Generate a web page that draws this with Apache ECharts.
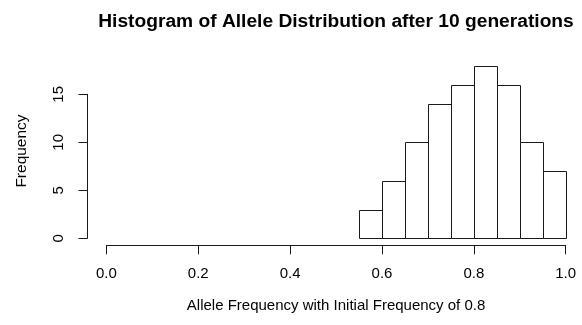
<!DOCTYPE html>
<html>
<head>
<meta charset="utf-8">
<script src="https://cdn.jsdelivr.net/npm/echarts@6/dist/echarts.min.js"></script>
<style>
  html, body { margin: 0; padding: 0; background: #fff; }
  #chart { width: 582px; height: 325px; }
</style>
</head>
<body>
<div id="chart"></div>
<script>
// Histogram bins: left edge of each bin and the number of populations in it
const binStarts = [0.55, 0.60, 0.65, 0.70, 0.75, 0.80, 0.85, 0.90, 0.95];
const binWidth = 0.05;
const counts = [3, 6, 10, 14, 16, 18, 16, 10, 7];
const xTicks = [0.0, 0.2, 0.4, 0.6, 0.8, 1.0];
const yTicks = [0, 5, 10, 15];

const FONT = 'Liberation Sans, Arial, sans-serif';
const INK = '#1a1a1a';

const chart = echarts.init(document.getElementById('chart'), null, { renderer: 'canvas' });

const barData = binStarts.map((s, i) => [s, s + binWidth, counts[i]]);

chart.setOption({
  animation: false,
  backgroundColor: '#ffffff',
  title: {
    text: 'Histogram of Allele Distribution after 10 generations',
    left: 331,
    top: 7,
    textAlign: 'center',
    textStyle: { fontFamily: FONT, fontWeight: 'bold', fontSize: 19.2, color: '#000' }
  },
  graphic: [{
    type: 'text',
    x: 22,
    y: 151,
    rotation: Math.PI / 2,
    style: {
      text: 'Frequency',
      font: '15.5px ' + FONT,
      fill: '#000',
      align: 'center',
      verticalAlign: 'middle'
    }
  }],
  grid: { left: 106.4, right: 16.3, top: 94.3, bottom: 86.7, containLabel: false },
  xAxis: {
    type: 'value',
    min: 0, max: 1, interval: 0.2,
    offset: 7,
    name: 'Allele Frequency with Initial Frequency of 0.8',
    nameLocation: 'middle',
    nameGap: 53,
    nameTextStyle: { fontFamily: FONT, fontSize: 15, color: '#000' },
    axisLine: { show: true, onZero: false, lineStyle: { color: INK, width: 1 } },
    axisTick: { show: true, length: 9, inside: false, lineStyle: { color: INK, width: 1 } },
    axisLabel: {
      fontFamily: FONT, fontSize: 15, color: '#000', margin: 21,
      formatter: v => v.toFixed(1),
      customValues: xTicks
    },
    splitLine: { show: false }
  },
  yAxis: {
    type: 'value',
    min: 0, max: 15, interval: 5,
    offset: 19,
    axisLine: { show: true, onZero: false, lineStyle: { color: INK, width: 1 } },
    axisTick: { show: true, length: 9, inside: false, lineStyle: { color: INK, width: 1 } },
    axisLabel: {
      fontFamily: FONT, fontSize: 15, color: '#000', margin: 21, rotate: 90,
      customValues: yTicks
    },
    splitLine: { show: false }
  },
  series: [{
    type: 'custom',
    clip: false,
    data: barData,
    renderItem: function (params, api) {
      const p0 = api.coord([api.value(0), 0]);
      const p1 = api.coord([api.value(1), api.value(2)]);
      return {
        type: 'rect',
        shape: {
          x: Math.round(p0[0]) + 0.5,
          y: Math.round(p1[1]) + 0.5,
          width: Math.round(p1[0]) - Math.round(p0[0]),
          height: Math.round(p0[1]) - Math.round(p1[1])
        },
        style: { fill: '#ffffff', stroke: INK, lineWidth: 1 }
      };
    }
  }]
});
</script>
</body>
</html>
